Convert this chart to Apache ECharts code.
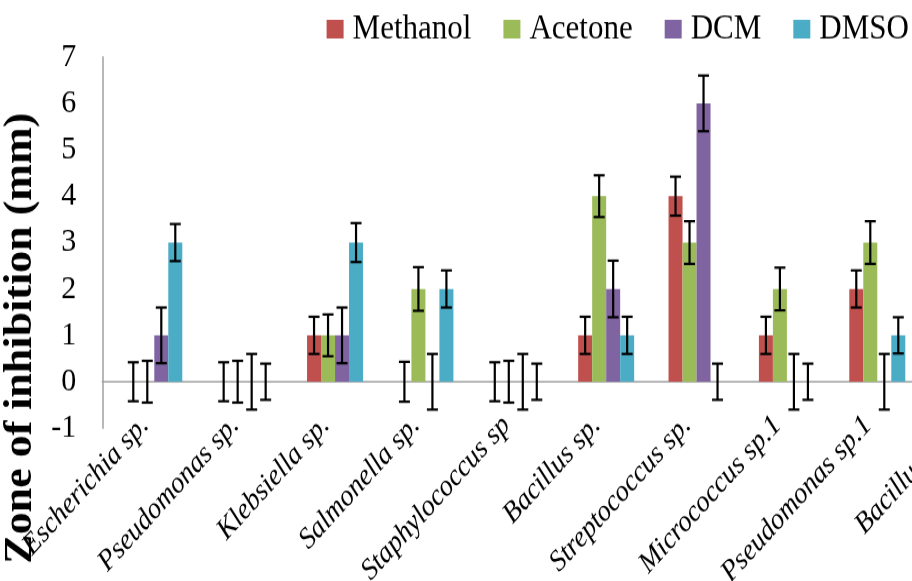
<!DOCTYPE html>
<html>
<head>
<meta charset="utf-8">
<script src="https://cdn.jsdelivr.net/npm/echarts@6/dist/echarts.min.js"></script>
<style>
html,body{margin:0;padding:0;background:#fff;width:912px;height:581px;}
#chart{width:912px;height:528px;transform:scaleY(1.1);transform-origin:0 0;}
</style>
</head>
<body>
<div id="chart"></div>
<script>
const categories = ['Escherichia sp.', 'Pseudomonas sp.', 'Klebsiella sp.', 'Salmonella sp.', 'Staphylococcus sp', 'Bacillus sp.', 'Streptococcus sp.', 'Micrococcus sp.1', 'Pseudomonas sp.1', 'Bacillus sp.1'];
const seriesNames = ['Methanol', 'Acetone', 'DCM', 'DMSO'];
const methanol = [0, 0, 1, 0, 0, 1, 4, 1, 2, 1];
const acetone  = [0, 0, 1, 2, 0, 4, 3, 2, 3, 2];
const dcm      = [1, 0, 1, 0, 0, 2, 6, 0, 0, 0];
const dmso     = [3, 0, 3, 2, 0, 1, 0, 0, 1, 1];
const methanolErr = [0.42, 0.42, 0.40, 0.43, 0.42, 0.40, 0.42, 0.40, 0.40, 0.40];
const acetoneErr  = [0.45, 0.45, 0.45, 0.47, 0.45, 0.45, 0.46, 0.46, 0.46, 0.45];
const dcmErr      = [0.60, 0.60, 0.60, 0.60, 0.60, 0.61, 0.60, 0.60, 0.60, 0.60];
const dmsoErr     = [0.40, 0.39, 0.42, 0.40, 0.39, 0.40, 0.39, 0.39, 0.39, 0.40];
const yTicks = [-1, 0, 1, 2, 3, 4, 5, 6, 7];

const values = [methanol, acetone, dcm, dmso];
const errors = [methanolErr, acetoneErr, dcmErr, dmsoErr];
const colors = ['#C0504D', '#9BBB59', '#8064A2', '#4BACC6'];
const FONT = "'Liberation Serif', 'Times New Roman', serif";
const BAR_W = 14;
const CAP = 5.5;

const GRID_TOP = 51.8, GRID_BOTTOM = 138.8;
const BAND = 90.375;
const GRID1_LEFT = 109.1;
const GRID_RIGHT_EDGE = GRID1_LEFT + BAND * categories.length;
const AXIS_X = 102.3;

function makeErr(sIdx) {
  return function (params, api) {
    const i = api.value(0), v = api.value(1), e = api.value(2);
    const c = api.coord([i, v]);
    const hi = api.coord([i, v + e]);
    const lo = api.coord([i, v - e]);
    const px = c[0] + (sIdx - 1.5) * BAR_W;
    const st = { stroke: '#000', lineWidth: 2.2 };
    return {
      type: 'group',
      children: [
        { type: 'line', shape: { x1: px, y1: hi[1], x2: px, y2: lo[1] }, style: st },
        { type: 'line', shape: { x1: px - CAP, y1: hi[1], x2: px + CAP, y2: hi[1] }, style: st },
        { type: 'line', shape: { x1: px - CAP, y1: lo[1], x2: px + CAP, y2: lo[1] }, style: st }
      ]
    };
  };
}

const series = [];
seriesNames.forEach((name, s) => {
  series.push({
    name: name, type: 'bar', xAxisIndex: 0, yAxisIndex: 0,
    data: values[s], barWidth: BAR_W, barGap: '0%',
    itemStyle: { color: colors[s] }, z: 2
  });
});
seriesNames.forEach((name, s) => {
  series.push({
    name: name + ' error', type: 'custom', xAxisIndex: 0, yAxisIndex: 0,
    renderItem: makeErr(s), encode: { x: 0, y: 1 },
    data: categories.map((c, i) => [i, values[s][i], errors[s][i]]),
    z: 5, silent: true, clip: false
  });
});

const chart = echarts.init(document.getElementById('chart'), null, { renderer: 'canvas' });
chart.setOption({
  animation: false,
  backgroundColor: '#fff',
  legend: {
    data: seriesNames, icon: 'rect', itemWidth: 17, itemHeight: 17, itemGap: 32,
    left: 326.6, top: 11, padding: 0,
    textStyle: { fontFamily: FONT, fontSize: 31, color: '#000', padding: [0, 0, 0, 4] }
  },
  grid: [
    { left: GRID1_LEFT, top: GRID_TOP, bottom: GRID_BOTTOM, width: BAND * categories.length, containLabel: false, outerBoundsMode: 'none' },
    { left: AXIS_X, top: GRID_TOP, bottom: GRID_BOTTOM, width: GRID_RIGHT_EDGE - AXIS_X, containLabel: false, outerBoundsMode: 'none' }
  ],
  xAxis: [
    {
      type: 'category', gridIndex: 0, data: categories, position: 'bottom',
      axisLine: { show: false, onZero: false }, axisTick: { show: false },
      axisLabel: {
        rotate: 45, margin: 3, interval: 0, align: 'right', verticalAlign: 'bottom',
        fontFamily: FONT, fontStyle: 'italic', fontSize: 27, color: '#000'
      }
    },
    {
      type: 'value', gridIndex: 1, min: 0, max: 1,
      axisLine: { show: true, onZero: true, lineStyle: { color: '#A0A0A0', width: 1.5 } },
      axisTick: { show: false }, axisLabel: { show: false }, splitLine: { show: false }
    }
  ],
  yAxis: [
    {
      type: 'value', gridIndex: 0, min: -1, max: 7, interval: 1,
      show: false, splitLine: { show: false }
    },
    {
      type: 'value', gridIndex: 1, min: -1, max: 7, interval: 1,
      axisLine: { show: true, onZero: false, lineStyle: { color: '#A0A0A0', width: 1.5 } },
      axisTick: { show: false }, splitLine: { show: false },
      axisLabel: { margin: 26, fontFamily: FONT, fontSize: 30, color: '#000' },
      name: 'Zone of inhibition (mm)', nameLocation: 'middle', nameRotate: 90, nameGap: 46,
      nameTextStyle: { fontFamily: FONT, fontWeight: 'bold', fontSize: 40, color: '#000', padding: [0, 174, 0, 0] }
    }
  ],
  series: series
});
</script>
</body>
</html>
